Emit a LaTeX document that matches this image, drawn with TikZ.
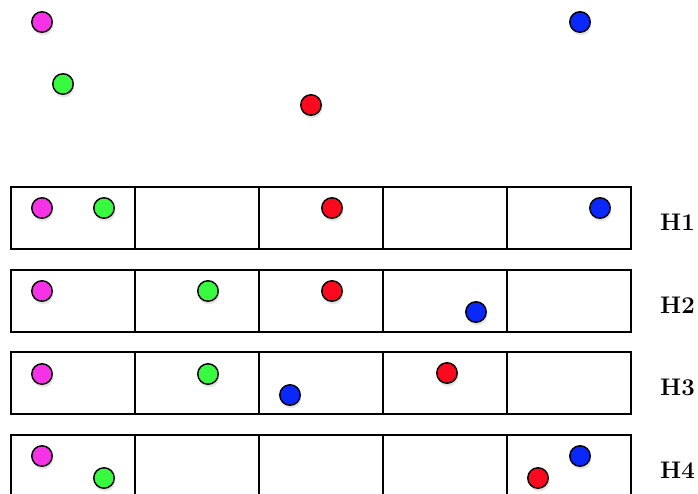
\documentclass[tikz,border=0pt]{standalone}
\usetikzlibrary{shadows}

\definecolor{dotmag}{RGB}{245,50,230}
\definecolor{dotgrn}{RGB}{55,250,65}
\definecolor{dotred}{RGB}{250,10,30}
\definecolor{dotblu}{RGB}{10,40,250}

\begin{document}
\begin{tikzpicture}[
  x=1pt, y=-1pt,
  dot/.style={circle, draw=black, line width=1.4pt, minimum size=20.5pt, inner sep=0pt,
    drop shadow={shadow xshift=1pt, shadow yshift=-3pt, opacity=0.22}},
  cell/.style={draw=black, line width=1.3pt},
  rowlbl/.style={font=\fontsize{24}{24}\selectfont\bfseries, anchor=west, inner sep=0pt},
]

% ── Frame (picture is cut at the bottom) ──────────────────────────────────────
\useasboundingbox (0,0) rectangle (698,493);
\clip (0,0) rectangle (698,493);

% ── Free points ───────────────────────────────────────────────────────────────
\node[dot, fill=dotmag] (pm) at (42,22)  {};
\node[dot, fill=dotgrn] (pg) at (63,84)  {};
\node[dot, fill=dotred] (pr) at (311,105) {};
\node[dot, fill=dotblu] (pb) at (580,22) {};

% ── Bucket rows (5 cells each) ───────────────────────────────────────────────
\foreach \top in {187,270,352,435}
  \foreach \c in {0,...,4}
    \draw[cell] ({11+124*\c},\top) rectangle ++(124,62);

% ── H1 ────────────────────────────────────────────────────────────────────────
\node[dot, fill=dotmag] (a-m) at (42,208)  {};
\node[dot, fill=dotgrn] (a-g) at (104,208) {};
\node[dot, fill=dotred] (a-r) at (332,208) {};
\node[dot, fill=dotblu] (a-b) at (600,208) {};
\node[rowlbl] (h1) at (660,222) {H1};

% ── H2 ────────────────────────────────────────────────────────────────────────
\node[dot, fill=dotmag] (b-m) at (42,291)  {};
\node[dot, fill=dotgrn] (b-g) at (208,291) {};
\node[dot, fill=dotred] (b-r) at (332,291) {};
\node[dot, fill=dotblu] (b-b) at (476,312) {};
\node[rowlbl] (h2) at (660,305) {H2};

% ── H3 ────────────────────────────────────────────────────────────────────────
\node[dot, fill=dotmag] (c-m) at (42,374)  {};
\node[dot, fill=dotgrn] (c-g) at (208,374) {};
\node[dot, fill=dotred] (c-r) at (447,373) {};
\node[dot, fill=dotblu] (c-b) at (290,395) {};
\node[rowlbl] (h3) at (660,387) {H3};

% ── H4 ────────────────────────────────────────────────────────────────────────
\node[dot, fill=dotmag] (d-m) at (42,456)  {};
\node[dot, fill=dotgrn] (d-g) at (104,478) {};
\node[dot, fill=dotred] (d-r) at (538,478) {};
\node[dot, fill=dotblu] (d-b) at (580,456) {};
\node[rowlbl] (h4) at (660,470) {H4};

\end{tikzpicture}
\end{document}
